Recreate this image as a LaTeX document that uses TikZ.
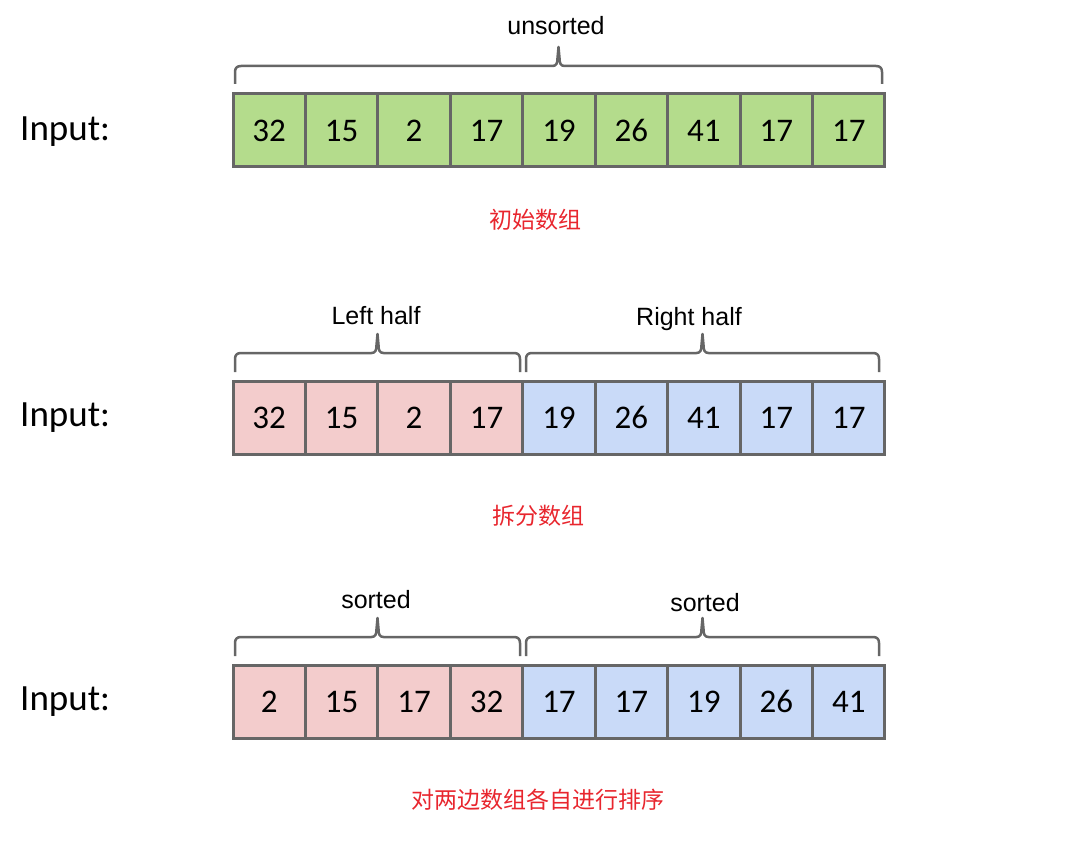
\documentclass[tikz,border=0pt]{standalone}
\usepackage{fontspec}
\setmainfont{Carlito}
\newfontfamily\arialfont{Liberation Sans}
\newfontfamily\cjk{Noto Sans CJK SC}
\definecolor{grn}{HTML}{B4DC8C}
\definecolor{lpink}{HTML}{F3CCCC}
\definecolor{lblue}{HTML}{C9DAF8}
\definecolor{edgegray}{HTML}{666666}
\definecolor{notered}{HTML}{E8262E}
\tikzset{
  cell/.style={draw=edgegray, line width=3pt, minimum width=72.44pt, minimum height=73pt,
    inner sep=0pt, font=\fontsize{33}{36}\selectfont},
  inlabel/.style={anchor=west, inner sep=0pt, font=\fontsize{37}{40}\selectfont},
  bracelabel/.style={inner sep=0pt, font=\arialfont\fontsize{25}{28}\selectfont},
  note/.style={inner sep=0pt, text=notered, font=\cjk\fontsize{23}{26}\selectfont},
  curly/.style={draw=edgegray, line width=2.5pt, line join=round}
}
% curly brace: left x, right x, end y, line y, tip y
\newcommand{\bracedraw}[5]{%
  \pgfmathsetmacro{\bm}{(#1+#2)/2}
  \draw[curly] (#1,#3) -- (#1,#4+6) .. controls (#1,#4+2) and (#1+2,#4) .. (#1+6,#4)
    -- (\bm-6,#4) .. controls (\bm-2,#4) and (\bm-1,#4-3) .. (\bm-1,#4-8)
    -- (\bm,#5) -- (\bm+1,#4-8) .. controls (\bm+1,#4-3) and (\bm+2,#4) .. (\bm+6,#4)
    -- (#2-6,#4) .. controls (#2-2,#4) and (#2,#4+2) .. (#2,#4+6) -- (#2,#3);}
\begin{document}
\begin{tikzpicture}[x=1pt, y=-1pt]
    \useasboundingbox (0,0) rectangle (1075,850);

    % initial array
    \node[inlabel] (in1) at (20,132) {Input:};
    \foreach \v [count=\i] in {32,15,2,17,19,26,41,17,17}
        \node[cell, fill=grn] (a\i) at ({233+72.44*(\i-0.5)},130.5) {\v};
    \bracedraw{235}{882}{84}{66}{47}
    \node[bracelabel] (lab1) at (556,26) {unsorted};
    \node[note] (note1) at (535,220) {初始数组};

    % split
    \node[inlabel] (in2) at (20,418) {Input:};
    \foreach \v/\c [count=\i] in {32/lpink,15/lpink,2/lpink,17/lpink,19/lblue,26/lblue,41/lblue,17/lblue,17/lblue}
        \node[cell, fill=\c] (b\i) at ({233+72.44*(\i-0.5)},417.5) {\v};
    \bracedraw{235}{520}{372}{353}{334}
    \bracedraw{526}{879}{372}{353}{334}
    \node[bracelabel] (lab2) at (376,316) {Left half};
    \node[bracelabel] (lab3) at (689,319) {Right half};
    \node[note] (note2) at (538,516) {拆分数组};

    % sorted halves
    \node[inlabel] (in3) at (20,702) {Input:};
    \foreach \v/\c [count=\i] in {2/lpink,15/lpink,17/lpink,32/lpink,17/lblue,17/lblue,19/lblue,26/lblue,41/lblue}
        \node[cell, fill=\c] (c\i) at ({233+72.44*(\i-0.5)},701.5) {\v};
    \bracedraw{235}{520}{656}{637}{618}
    \bracedraw{526}{879}{656}{637}{618}
    \node[bracelabel] (lab4) at (376,600) {sorted};
    \node[bracelabel] (lab5) at (705,603) {sorted};
    \node[note] (note3) at (538,800) {对两边数组各自进行排序};
\end{tikzpicture}
\end{document}
